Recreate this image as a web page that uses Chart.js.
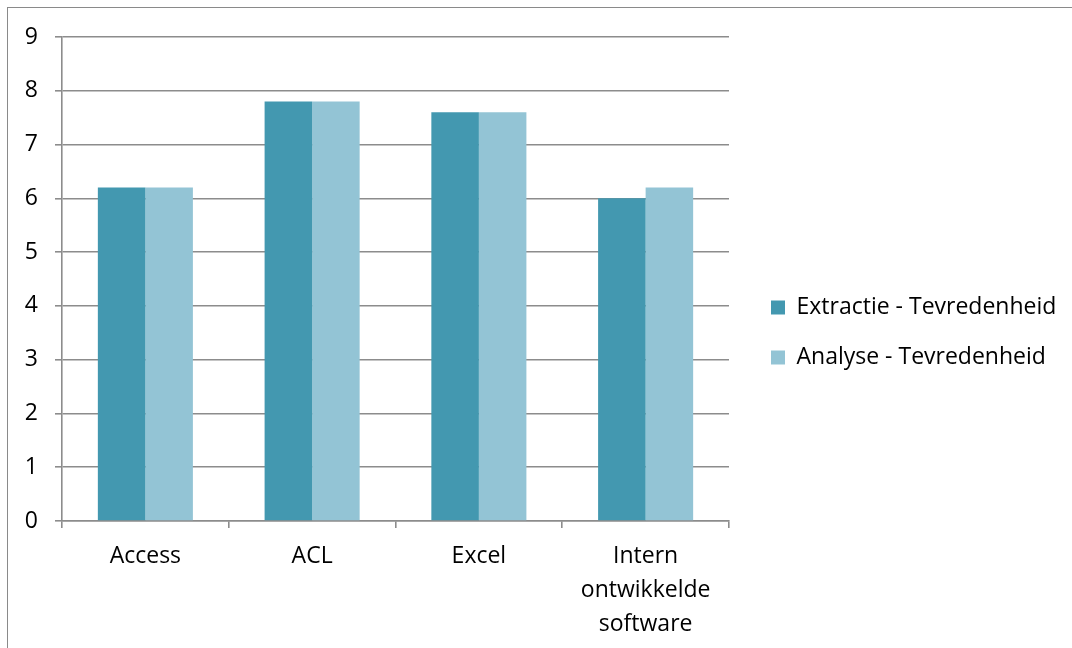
<!DOCTYPE html>
<html>
<head>
<meta charset="utf-8">
<script src="https://cdn.jsdelivr.net/npm/chart.js@4.4.0/dist/chart.umd.min.js"></script>
<style>
    html, body { margin: 0; padding: 0; background: #fff; }
    #wrap { position: relative; width: 1072px; height: 648px; overflow: hidden; }
    #frame { position: absolute; left: 7px; top: 7px; width: 1100px; height: 700px;
             border-left: 1px solid #8a8a8a; border-top: 1px solid #8a8a8a; }
    canvas { position: absolute; left: 0; top: 0; }
</style>
</head>
<body>
<div id="wrap">
    <div id="frame"></div>
    <canvas id="chart" width="1072" height="648"></canvas>
</div>
<script>
// Chart data
const categories = ['Access', 'ACL', 'Excel', ['Intern', 'ontwikkelde', 'software']];
const extractie = [6.2, 7.8, 7.6, 6.0];
const analyse = [6.2, 7.8, 7.6, 6.2];
const seriesNames = ['Extractie - Tevredenheid', 'Analyse - Tevredenheid'];
const yMin = 0;
const yMax = 9;
const yStep = 1;

const FONT = "'Open Sans', 'DejaVu Sans', sans-serif";
const GRID = '#8c8c8c';
const LINE_W = 1.6;
const LEGEND_WIDTH = 343;

// fix legend width so the plot ends where the original does, then nudge it
const legendFix = {
    id: 'legendFix',
    beforeLayout(chart) {
        const l = chart.legend;
        if (l && !l._fixed) {
            const fit = l.fit.bind(l);
            l.fit = function () { fit(); this.width = LEGEND_WIDTH; };
            l._fixed = true;
        }
    },
    afterLayout(chart) {
        const l = chart.legend;
        if (!l) return;
        l.left += 15; l.right += 15;
        l.top -= 10; l.bottom -= 10;
    }
};

new Chart(document.getElementById('chart').getContext('2d'), {
    type: 'bar',
    data: {
        labels: categories,
        datasets: [{
            label: seriesNames[0],
            data: extractie,
            backgroundColor: '#4398b0',
            borderWidth: 0
        }, {
            label: seriesNames[1],
            data: analyse,
            backgroundColor: '#93c4d5',
            borderWidth: 0
        }]
    },
    options: {
        responsive: false,
        animation: false,
        layout: { padding: { top: 37, right: 0, bottom: 0, left: 0 } },
        datasets: { bar: { categoryPercentage: 0.57, barPercentage: 1.0 } },
        plugins: {
            legend: {
                position: 'right',
                labels: {
                    boxWidth: 14,
                    boxHeight: 14,
                    padding: 27,
                    color: '#000',
                    font: { family: FONT, size: 23 }
                }
            },
            tooltip: { enabled: false }
        },
        scales: {
            x: {
                afterFit(scale) { scale.height = 127; },
                border: { display: true, color: GRID, width: LINE_W },
                grid: { display: true, drawOnChartArea: false, drawTicks: true, tickLength: 7,
                        color: GRID, lineWidth: LINE_W, offset: true },
                ticks: { color: '#000', padding: 11, maxRotation: 0, autoSkip: false,
                         font: { family: FONT, size: 23, lineHeight: 1.48 } }
            },
            y: {
                min: yMin,
                max: yMax,
                afterFit(scale) { scale.width = 62; },
                border: { display: true, color: GRID, width: LINE_W },
                grid: { color: GRID, lineWidth: LINE_W, tickLength: 7 },
                ticks: { stepSize: yStep, color: '#000', padding: 17,
                         font: { family: FONT, size: 23 } }
            }
        }
    },
    plugins: [legendFix]
});
</script>
</body>
</html>
